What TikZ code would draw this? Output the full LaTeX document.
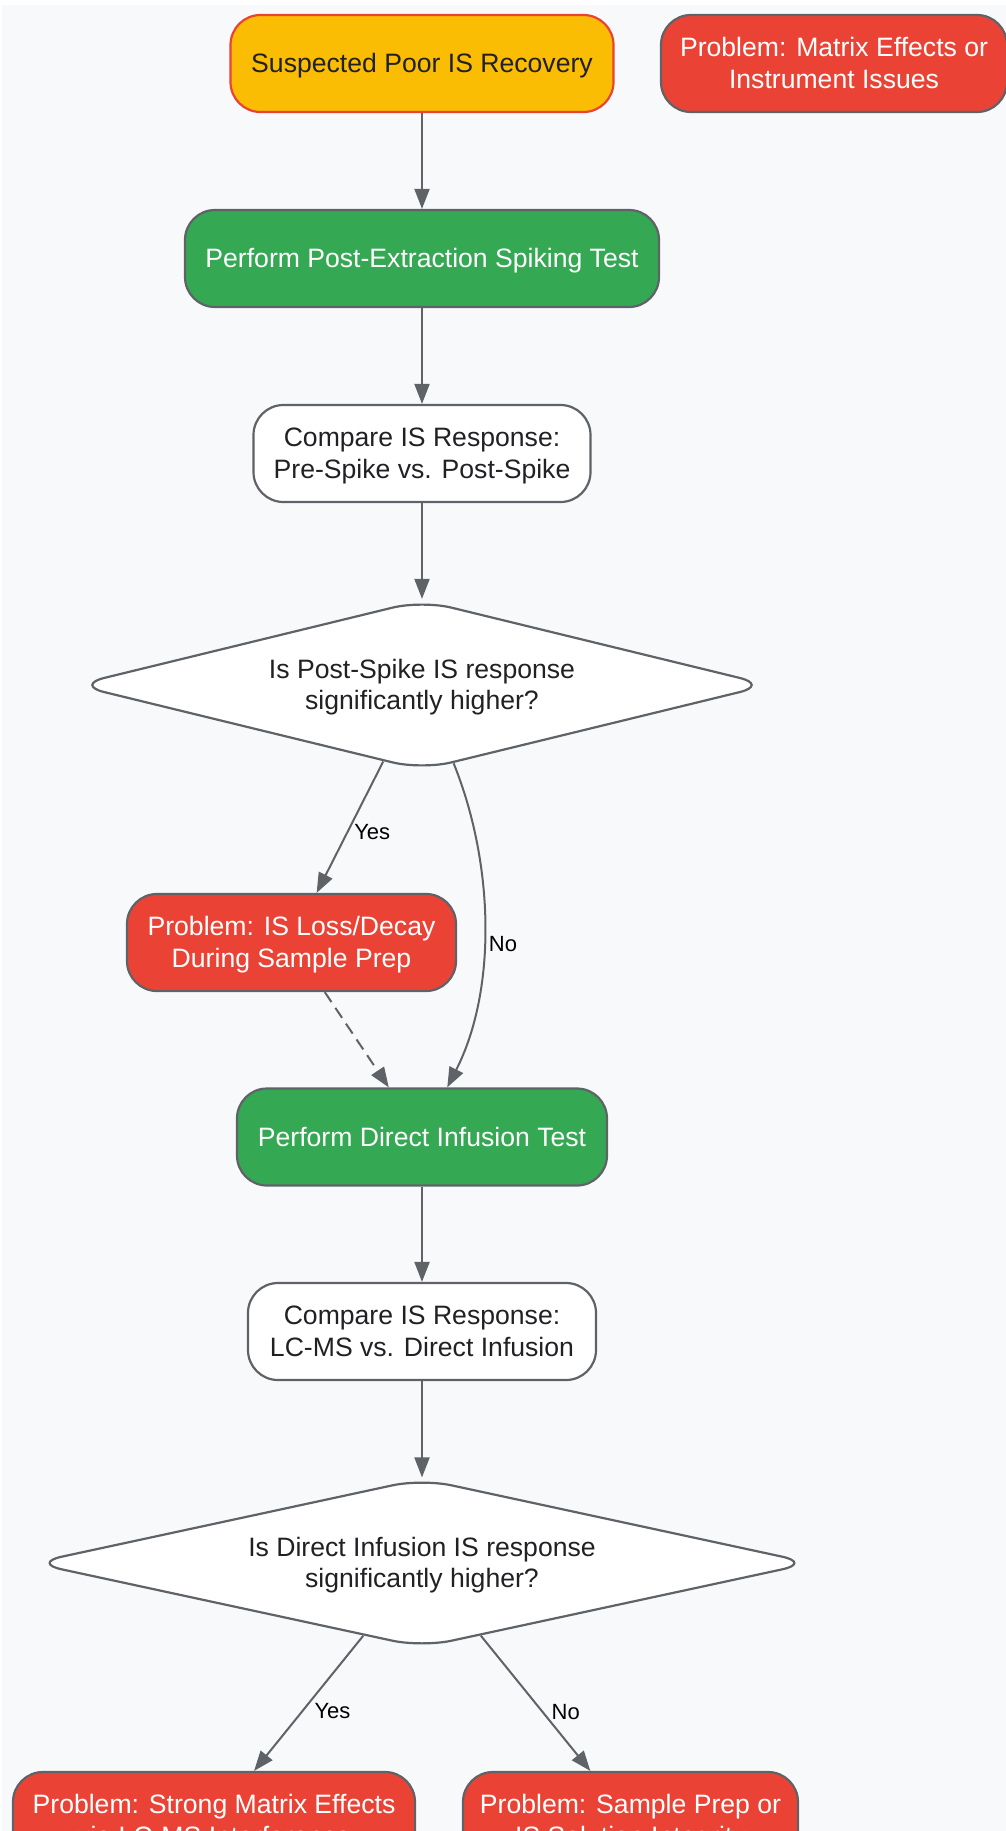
\documentclass[tikz,border=0pt]{standalone}
\usepackage{fontspec}
\setmainfont{Liberation Sans}
\usetikzlibrary{shapes.geometric,arrows.meta}
\definecolor{bg}{HTML}{F8F9FA}
\definecolor{gyellow}{HTML}{FBBC04}
\definecolor{gred}{HTML}{EA4335}
\definecolor{ggreen}{HTML}{34A853}
\definecolor{ggray}{HTML}{5F6368}
\definecolor{gtext}{HTML}{202124}
\newcommand{\topstrut}{\rule{0pt}{12.48pt}}
\newcommand{\botstrut}{\rule[-3.27pt]{0pt}{3.27pt}}
\begin{document}
\begin{tikzpicture}[x=0.5pt,y=0.5pt,
  box/.style={rectangle, rounded corners=15pt, draw=ggray, line width=1.1pt,
    minimum height=48.5pt, inner sep=0pt, align=center,
    font=\fontsize{13.3}{15.75}\selectfont},
  startbox/.style={box, fill=gyellow, draw=gred, text=gtext},
  probbox/.style={box, fill=gred, text=white},
  actbox/.style={box, fill=ggreen, text=white},
  cmpbox/.style={box, fill=white, text=gtext},
  decbox/.style={diamond, aspect=4, rounded corners=15pt, draw=ggray,
    line width=1.1pt, fill=white, inner sep=0pt, align=center, text=gtext,
    font=\fontsize{13.3}{15.75}\selectfont},
  conn/.style={draw=ggray, line width=1pt, -{Triangle[length=10pt,width=7.5pt]}},
  lbl/.style={font=\fontsize{11}{13}\selectfont, text=black, inner sep=0pt, anchor=west}
]
\useasboundingbox (0,0) rectangle (1006,-1831);
\clip (0,0) rectangle (1006,-1831);
\fill[white] (0,0) rectangle (1006,-1831);
\fill[bg] (2,-5) rectangle (1006,-1831);

\node[startbox, minimum width=191.5pt] (n1) at (422,-63.5) {\topstrut Suspected Poor IS Recovery\botstrut};
\node[probbox, minimum width=173pt] (n2) at (834,-63.5) {\topstrut Problem: Matrix Effects or\\Instrument Issues\botstrut};
\node[actbox, minimum width=237pt] (n3) at (422,-258.5) {\topstrut Perform Post-Extraction Spiking Test\botstrut};
\node[cmpbox, minimum width=168.5pt] (n4) at (422,-453.5) {\topstrut Compare IS Response:\\Pre-Spike vs. Post-Spike\botstrut};
\node[decbox, minimum width=347.2pt, minimum height=85pt] (d1) at (422,-685) {\topstrut Is Post-Spike IS response\\significantly higher?\botstrut};
\node[probbox, minimum width=164.5pt] (n6) at (291.5,-942.5) {\topstrut Problem: IS Loss/Decay\\During Sample Prep\botstrut};
\node[actbox, minimum width=185pt] (n7) at (422,-1137) {\topstrut Perform Direct Infusion Test\botstrut};
\node[cmpbox, minimum width=174pt] (n8) at (422,-1331.5) {\topstrut Compare IS Response:\\LC-MS vs. Direct Infusion\botstrut};
\node[decbox, minimum width=390pt, minimum height=84.5pt] (d2) at (422,-1563) {\topstrut Is Direct Infusion IS response\\significantly higher?\botstrut};
\node[probbox, minimum width=201pt] (n10) at (214,-1820.5) {\topstrut Problem: Strong Matrix Effects\\via LC-MS Interference\botstrut};
\node[probbox, minimum width=167.5pt] (n11) at (630.5,-1820.5) {\topstrut Problem: Sample Prep or\\IS Solution Integrity\botstrut};

\draw[conn] (n1) -- (n3);
\draw[conn] (n3) -- (n4);
\draw[conn] (n4) -- (d1);
\draw[conn] (d1) -- node[lbl, pos=0.54, xshift=3pt] {Yes} (n6);
\draw[conn] (d1) to[out=-68, in=63, looseness=0.86] node[lbl, pos=0.55, xshift=2pt] {No} (n7);
\draw[conn, dash pattern=on 6pt off 3.5pt] (n6) -- (n7);
\draw[conn] (n7) -- (n8);
\draw[conn] (n8) -- (d2);
\draw[conn] (d2) -- node[lbl, pos=0.556, xshift=5.5pt] {Yes} (n10);
\draw[conn] (d2) -- node[lbl, pos=0.564, xshift=4pt] {No} (n11);
\end{tikzpicture}
\end{document}
